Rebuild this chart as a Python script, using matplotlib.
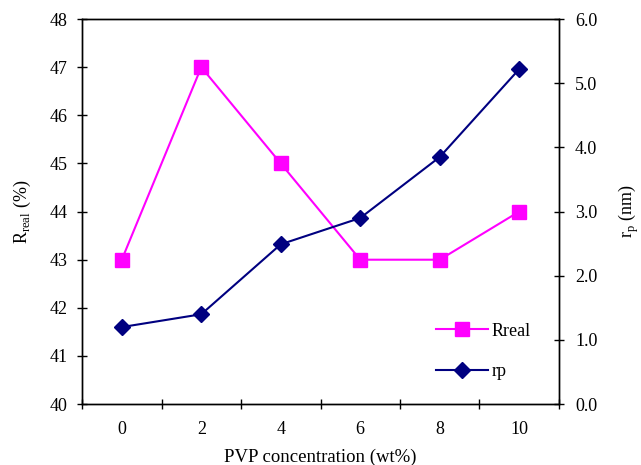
import numpy as np
import matplotlib.pyplot as plt
from matplotlib.ticker import FixedLocator, FormatStrFormatter

plt.rcParams['font.family'] = 'Liberation Serif'
plt.rcParams['mathtext.fontset'] = 'custom'
plt.rcParams['mathtext.rm'] = 'Liberation Serif'

# PVP-konsentrasjon og målte verdier
pvp = ['0', '2', '4', '6', '8', '10']
r_real = [43, 47, 45, 43, 43, 44]
r_p = [1.2, 1.4, 2.49, 2.9, 3.85, 5.22]

pos = np.arange(len(pvp))

fig = plt.figure(figsize=(6.41, 4.65), dpi=100)
ax = fig.add_axes([0.128, 0.131, 0.744, 0.828])
ax2 = ax.twinx()

l1, = ax.plot(pos, r_real, color='#FF00FF', lw=1.5, marker='s', ms=10, label='Rreal')
l2, = ax2.plot(pos, r_p, color='#000080', lw=1.5, marker='D', ms=8, label='rp')

ax.set_xlim(-0.5, len(pvp) - 0.5)
ax.set_ylim(40, 48)
ax2.set_ylim(0, 6)
ax.set_yticks(np.arange(40, 49, 1))
ax2.set_yticks(np.arange(0, 6.1, 1))
ax2.yaxis.set_major_formatter(FormatStrFormatter('%.1f'))

# kategoriakse: etiketter midt i, streker mellom kategoriene
ax.set_xticks(pos)
ax.set_xticklabels(pvp)
ax.xaxis.set_minor_locator(FixedLocator(np.arange(-0.5, len(pvp), 1)))
ax.tick_params(axis='x', which='major', length=0, pad=12, labelsize=13)
ax.tick_params(axis='x', which='minor', direction='inout', length=7, width=1)
ax.tick_params(axis='y', direction='inout', length=7, width=1, labelsize=13, pad=7)
ax2.tick_params(axis='y', direction='inout', length=7, width=1, labelsize=13, pad=8)

for a in (ax, ax2):
    for s in a.spines.values():
        s.set_linewidth(1)

ax.set_xlabel('PVP concentration (wt%)', fontsize=13.5, labelpad=8)
ax.set_ylabel(r'R$_{\mathrm{real}}$ (%)', fontsize=13, labelpad=12)
ax2.set_ylabel(r'r$_{\mathrm{p}}$ (nm)', fontsize=13, labelpad=14)

ax.legend(handles=[l1, l2], loc='lower right', bbox_to_anchor=(0.975, 0.02),
          frameon=False, fontsize=13, handlelength=2.9, labelspacing=1.3,
          handletextpad=0.2)

plt.savefig('out.png', dpi=100)
